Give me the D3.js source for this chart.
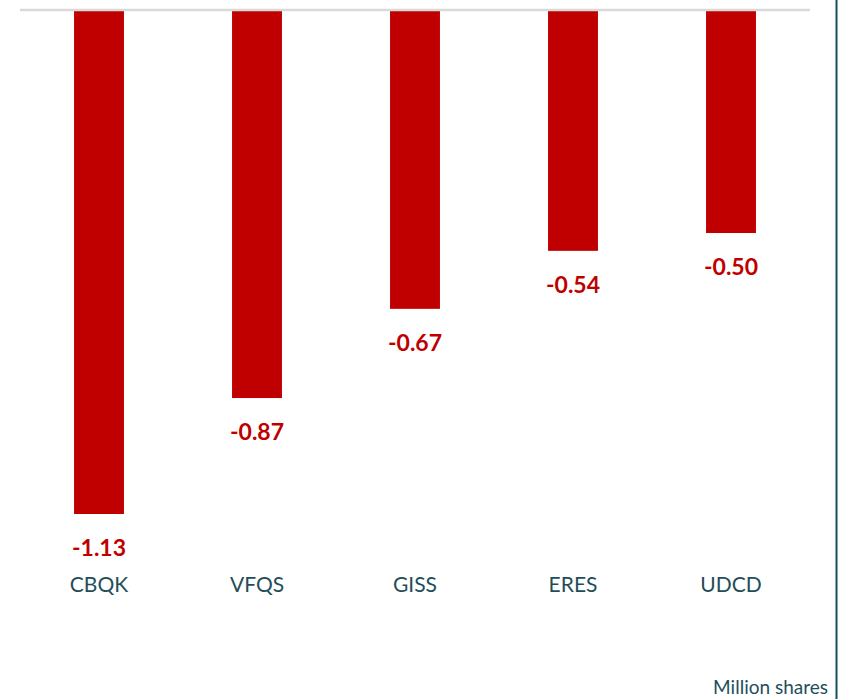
<html>
<head>
<script src="https://d3js.org/d3.v7.min.js"></script>
<style>
  body { margin: 0; background: #fff; }
</style>
</head>
<body>
<div class="chart"></div>
<script>
  const tickers = ["CBQK", "VFQS", "GISS", "ERES", "UDCD"];
  const values = [-1.13, -0.87, -0.67, -0.54, -0.50];
  const unitLabel = "Million shares";

  const width = 848, height = 699;
  const zeroY = 10;

  const svg = d3.select('.chart')
    .append('svg')
    .attr('width', width)
    .attr('height', height);

  const xScale = d3.scaleBand()
    .domain(tickers)
    .range([20, 810])
    .paddingInner(0.684)
    .paddingOuter(0.342);

  const yScale = d3.scaleLinear()
    .domain([0, -1.13])
    .range([zeroY, 514]);

  // right frame line
  svg.append('line')
    .attr('x1', 836.5).attr('x2', 836.5)
    .attr('y1', 0).attr('y2', height)
    .attr('stroke', '#16505a')
    .attr('stroke-width', 2);

  const data = tickers.map((t, i) => ({ t: t, v: values[i] }));

  svg.selectAll('.bar')
    .data(data)
    .join('rect')
    .attr('class', 'bar')
    .attr('x', d => xScale(d.t))
    .attr('width', xScale.bandwidth())
    .attr('y', yScale(0))
    .attr('height', d => yScale(d.v) - yScale(0))
    .attr('fill', '#c00000');

  // zero line
  svg.append('line')
    .attr('x1', 20).attr('x2', 810)
    .attr('y1', yScale(0)).attr('y2', yScale(0))
    .attr('stroke', '#d9d9d9')
    .attr('stroke-width', 2.5);

  svg.selectAll('.val')
    .data(data)
    .join('text')
    .attr('class', 'val')
    .attr('x', d => xScale(d.t) + xScale.bandwidth() / 2)
    .attr('y', d => yScale(d.v) + 42)
    .attr('text-anchor', 'middle')
    .attr('font-family', 'Lato, "Open Sans", sans-serif')
    .attr('font-weight', 'bold')
    .attr('font-size', 23)
    .attr('fill', '#c00000')
    .text(d => d.v.toFixed(2));

  const xAxis = d3.axisBottom(xScale).tickSize(0).tickPadding(0);
  const axisG = svg.append('g')
    .attr('transform', 'translate(0,577)')
    .call(xAxis);
  axisG.select('.domain').remove();
  axisG.selectAll('text')
    .attr('font-family', 'Lato, "Open Sans", sans-serif')
    .attr('font-size', 21)
    .attr('fill', '#1f4e5a');

  svg.append('text')
    .attr('x', 828)
    .attr('y', 694)
    .attr('text-anchor', 'end')
    .attr('font-family', 'Lato, "Open Sans", sans-serif')
    .attr('font-size', 19)
    .attr('fill', '#1f4e5a')
    .text(unitLabel);
</script>
</body>
</html>
